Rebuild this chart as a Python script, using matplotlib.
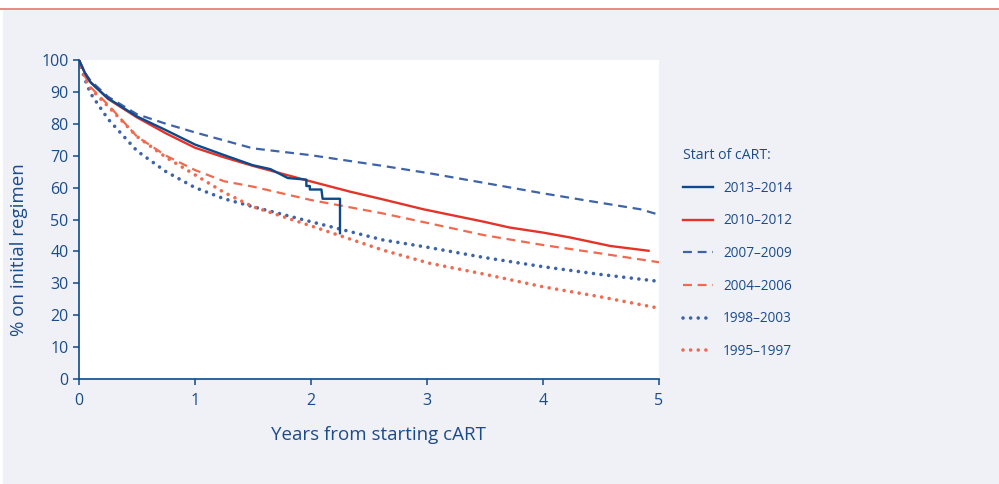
import numpy as np
import matplotlib.pyplot as plt
from matplotlib.patches import Rectangle
from matplotlib.lines import Line2D

plt.rcParams['font.family'] = ['Open Sans', 'DejaVu Sans']

# Kaplan-Meier style curves (years, % on initial regimen)
x_1314 = [0, 0.05, 0.1, 0.25, 0.5, 0.75, 1, 1.25, 1.5, 1.65, 1.8, 1.96, 1.96,
          1.99, 1.99, 2.09, 2.10, 2.25, 2.25]
y_1314 = [100, 96, 93, 88, 82.3, 78, 73.5, 70.2, 67, 65.8, 63, 62.5, 60.5,
          60.5, 59.4, 59.4, 56.5, 56.5, 45.7]

x_1012 = [0, 0.05, 0.1, 0.25, 0.5, 0.75, 1, 1.25, 1.5, 1.95, 2.34, 2.62, 2.97,
          3.25, 3.49, 3.71, 4.0, 4.23, 4.58, 4.91]
y_1012 = [100, 96, 93, 87.8, 82, 77, 72.5, 69.5, 66.8, 62.4, 58.7, 56.3, 53.2,
          51.1, 49.3, 47.5, 45.9, 44.4, 41.7, 40.2]

x_0709 = [0, 0.05, 0.1, 0.25, 0.5, 0.75, 1, 1.25, 1.5, 1.99, 2.62, 3.02, 3.49,
          4.0, 4.35, 4.84, 5.0]
y_0709 = [100, 96, 93.5, 88.5, 83, 80, 77.3, 74.8, 72.3, 70.2, 66.8, 64.5, 61.5,
          58.2, 56.1, 53.2, 51.5]

x_0406 = [0, 0.05, 0.1, 0.25, 0.5, 0.75, 1, 1.25, 1.5, 2.0, 2.62, 3.02, 3.49,
          4.0, 4.49, 5.0]
y_0406 = [100, 95, 91.5, 86, 76, 70, 65.5, 62, 60.3, 56.1, 51.9, 48.8, 45.1,
          42.0, 39.4, 36.6]

x_9803 = [0, 0.05, 0.1, 0.25, 0.5, 0.75, 1, 1.25, 1.5, 2.0, 2.62, 3.02, 3.49,
          4.0, 4.49, 5.0]
y_9803 = [100, 94, 89.5, 81.5, 71.5, 65, 60, 56.5, 54, 49.3, 43.6, 41.2, 38.1,
          35.2, 32.8, 30.6]

x_9597 = [0, 0.05, 0.1, 0.25, 0.5, 0.75, 1, 1.25, 1.5, 2.0, 2.62, 3.02, 3.49,
          4.0, 4.49, 5.0]
y_9597 = [100, 94.5, 91, 85.5, 76, 69.5, 64, 58.5, 54, 48, 40.4, 36.3, 32.9,
          28.9, 25.8, 22.2]

labels = ['2013\u20132014', '2010\u20132012', '2007\u20132009',
          '2004\u20132006', '1998\u20132003', '1995\u20131997']

navy = '#0d4a8c'
txt = '#1b4c8a'
red = '#e5332a'
blue2 = '#3d64a9'
orange = '#f06a4f'

fig = plt.figure(figsize=(9.99, 4.84), dpi=100)
fig.patch.set_facecolor('white')
# grey panel and red rule on top
fig.add_artist(Rectangle((3 / 999, 0), 996 / 999, 1 - 10 / 484,
                         transform=fig.transFigure, facecolor='#f0f1f7',
                         edgecolor='none', zorder=-5))
fig.add_artist(Line2D([0, 1], [1 - 9 / 484, 1 - 9 / 484], color='#e87472',
                      lw=1.2, transform=fig.transFigure, zorder=-4))

ax = fig.add_axes([79 / 999, 1 - 379 / 484, 580 / 999, 319 / 484])
ax.set_zorder(2)
ax.set_facecolor('white')

dot = (0, (0.01, 2.1))
dash = (0, (4, 2.6))
ax.plot(x_1314, y_1314, color=navy, lw=1.7, label=labels[0], zorder=6)
ax.plot(x_1012, y_1012, color=red, lw=1.7, label=labels[1], zorder=5)
ax.plot(x_0709, y_0709, color=blue2, lw=1.6, ls=dash, label=labels[2])
ax.plot(x_0406, y_0406, color=orange, lw=1.6, ls=dash, label=labels[3])
ax.plot(x_9803, y_9803, color=blue2, lw=2.6, ls=dot, dash_capstyle='round',
        label=labels[4])
ax.plot(x_9597, y_9597, color=orange, lw=2.6, ls=dot, dash_capstyle='round',
        label=labels[5])

ax.set_xlim(0, 5)
ax.set_ylim(0, 100)
ax.set_xticks(range(6))
ax.set_yticks(range(0, 101, 10))
for s in ['top', 'right']:
    ax.spines[s].set_visible(False)
for s in ['left', 'bottom']:
    ax.spines[s].set_color(navy)
    ax.spines[s].set_linewidth(1.2)
ax.tick_params(colors=navy, labelcolor=txt, labelsize=11.5, length=4,
               width=1.1, direction='out')
ax.tick_params(axis='x', pad=6)
ax.set_xlabel('Years from starting cART', color=txt, fontsize=13.5)
ax.set_ylabel('% on initial regimen', color=txt, fontsize=13.5)
ax.xaxis.set_label_coords(0.517, -0.148)
ax.yaxis.set_label_coords(-0.088, 0.404)

leg = ax.legend(loc='upper left', bbox_to_anchor=(683 / 999, 1 - 148 / 484),
                bbox_transform=fig.transFigure, frameon=False,
                title='Start of cART:', alignment='left', fontsize=9.8,
                title_fontsize=10.2, handlelength=2.2, handletextpad=0.75,
                labelspacing=1.3, borderaxespad=0, borderpad=0)
for t in leg.get_texts():
    t.set_color(txt)
leg.get_title().set_color(txt)

fig.savefig('out.png', dpi=100)
